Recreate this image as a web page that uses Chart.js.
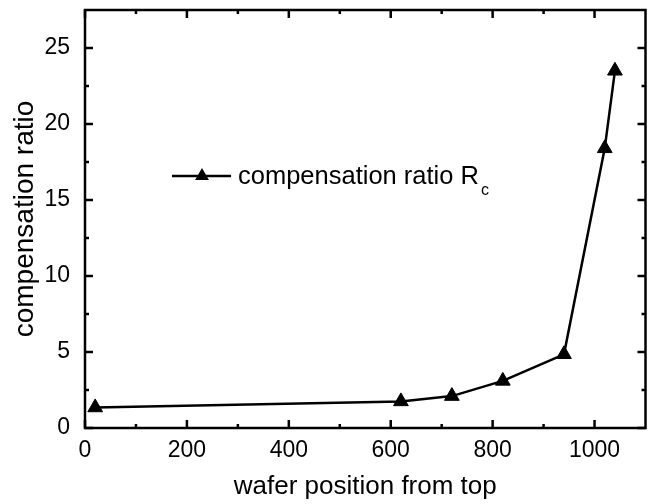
<!DOCTYPE html>
<html>
<head>
<meta charset="utf-8">
<script src="https://cdn.jsdelivr.net/npm/chart.js@4"></script>
<style>
  html, body { margin: 0; padding: 0; background: #fff; }
  #wrap { width: 655px; height: 504px; }
</style>
</head>
<body>
<div id="wrap"><canvas id="chart" width="655" height="504"></canvas></div>
<script>
// Data
const positions = [20, 620, 720, 820, 940, 1020, 1040];
const ratioValues = [1.35, 1.75, 2.1, 3.1, 4.85, 18.4, 23.5];
const xTickValues = [0, 200, 400, 600, 800, 1000];
const xMinorValues = [100, 300, 500, 700, 900];
const yTickValues = [0, 5, 10, 15, 20, 25];
const yMinorValues = [2.5, 7.5, 12.5, 17.5, 22.5];

const FONT = "'Liberation Sans', Arial, sans-serif";

// Box frame with inward ticks on all four sides
const frameTicks = {
    id: 'frameTicks',
    afterDatasetsDraw(chart) {
        const { ctx, chartArea: a, scales: { x, y } } = chart;
        ctx.save();
        ctx.strokeStyle = '#000';
        ctx.lineWidth = 2.5;
        ctx.beginPath();
        const vTick = (v, len) => {
            const px = x.getPixelForValue(v);
            ctx.moveTo(px, a.bottom); ctx.lineTo(px, a.bottom - len);
            ctx.moveTo(px, a.top); ctx.lineTo(px, a.top + len);
        };
        const hTick = (v, len) => {
            const py = y.getPixelForValue(v);
            ctx.moveTo(a.left, py); ctx.lineTo(a.left + len, py);
            ctx.moveTo(a.right, py); ctx.lineTo(a.right - len, py);
        };
        xTickValues.forEach(v => vTick(v, 8));
        xMinorValues.forEach(v => vTick(v, 4));
        yTickValues.forEach(v => hTick(v, 8));
        yMinorValues.forEach(v => hTick(v, 4));
        ctx.stroke();
        ctx.strokeRect(a.left, a.top, a.right - a.left, a.bottom - a.top);
        ctx.restore();
    }
};

// Legend inside the plot, with subscript c
const innerLegend = {
    id: 'innerLegend',
    afterDraw(chart) {
        const { ctx, chartArea: a } = chart;
        const ly = a.top + 166;
        const x0 = a.left + 87;
        ctx.save();
        ctx.strokeStyle = '#000';
        ctx.lineWidth = 2.5;
        ctx.beginPath();
        ctx.moveTo(x0, ly);
        ctx.lineTo(x0 + 59, ly);
        ctx.stroke();
        ctx.fillStyle = '#000';
        const cx = x0 + 30, r = 8;
        ctx.beginPath();
        ctx.moveTo(cx, ly - r);
        ctx.lineTo(cx + r * 0.866, ly + r * 0.5);
        ctx.lineTo(cx - r * 0.866, ly + r * 0.5);
        ctx.closePath();
        ctx.fill();
        ctx.font = '25.5px ' + FONT;
        ctx.textBaseline = 'alphabetic';
        const label = 'compensation ratio R';
        const tx = x0 + 66;
        ctx.fillText(label, tx, ly + 8);
        const w = ctx.measureText(label).width;
        ctx.font = '16px ' + FONT;
        ctx.fillText('c', tx + w + 2, ly + 19);
        ctx.restore();
    }
};

new Chart(document.getElementById('chart'), {
    type: 'line',
    data: {
        datasets: [{
            label: 'compensation ratio Rc',
            data: positions.map((p, i) => ({ x: p, y: ratioValues[i] })),
            borderColor: '#000',
            borderWidth: 2.5,
            backgroundColor: '#000',
            pointStyle: 'triangle',
            pointRadius: 8.5,
            pointBorderWidth: 1,
            pointBackgroundColor: '#000',
            pointBorderColor: '#000',
            tension: 0
        }]
    },
    options: {
        responsive: false,
        animation: false,
        layout: { padding: { top: 10, right: 5, left: 0, bottom: 0 } },
        plugins: {
            legend: { display: false },
            tooltip: { enabled: false }
        },
        scales: {
            x: {
                type: 'linear',
                min: 0,
                max: 1100,
                afterBuildTicks: s => { s.ticks = xTickValues.map(v => ({ value: v })); },
                afterFit: s => { s.height = 76; s.paddingLeft = 0; s.paddingRight = 0; },
                grid: { display: false, drawTicks: false },
                border: { display: false },
                ticks: {
                    color: '#000',
                    font: { family: FONT, size: 23 },
                    padding: 9,
                    maxRotation: 0,
                    callback: v => String(v)
                },
                title: {
                    display: true,
                    text: 'wafer position from top',
                    color: '#000',
                    font: { family: FONT, size: 26 },
                    padding: { top: 0, bottom: 2 }
                }
            },
            y: {
                min: 0,
                max: 27.5,
                afterBuildTicks: s => { s.ticks = yTickValues.map(v => ({ value: v })); },
                afterFit: s => { s.width = 85; s.paddingTop = 0; s.paddingBottom = 0; },
                grid: { display: false, drawTicks: false },
                border: { display: false },
                ticks: {
                    color: '#000',
                    font: { family: FONT, size: 23 },
                    padding: 15,
                    callback: v => String(v)
                },
                title: {
                    display: true,
                    text: 'compensation ratio',
                    color: '#000',
                    font: { family: FONT, size: 28 },
                    padding: { top: 8, bottom: 0 }
                }
            }
        }
    },
    plugins: [frameTicks, innerLegend]
});
</script>
</body>
</html>
